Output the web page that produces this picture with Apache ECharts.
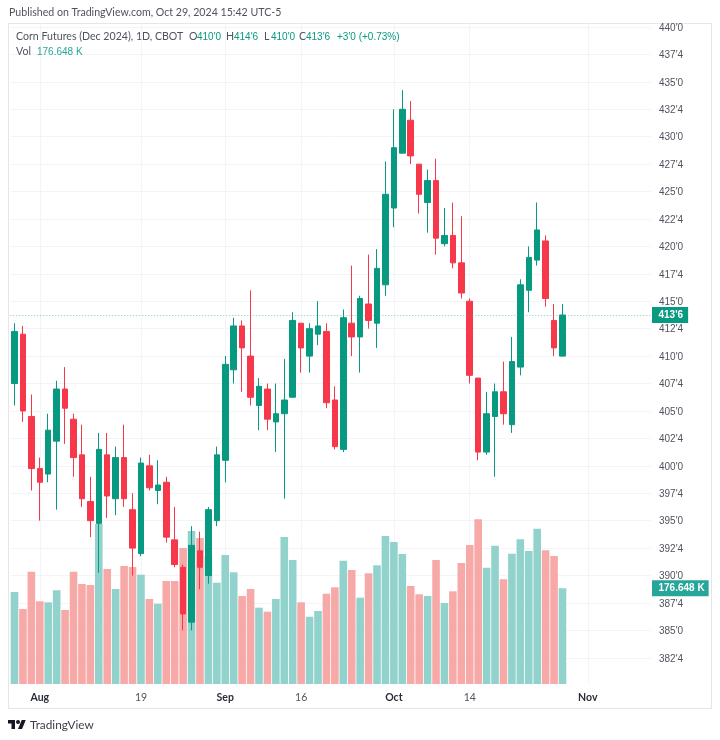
<!DOCTYPE html>
<html><head><meta charset="utf-8">
<style>html,body{margin:0;padding:0;background:#fff}#c{width:720px;height:740px}</style>
<script src="https://cdn.jsdelivr.net/npm/echarts@6/dist/echarts.min.js"></script>
</head><body><div id="c"></div>
<script>
const dates = ['Jul 29','Jul 30','Jul 31','Aug 1','Aug 2','Aug 5','Aug 6','Aug 7','Aug 8','Aug 9','Aug 12','Aug 13','Aug 14','Aug 15','Aug 16','Aug 19','Aug 20','Aug 21','Aug 22','Aug 23','Aug 26','Aug 27','Aug 28','Aug 29','Aug 30','Sep 3','Sep 4','Sep 5','Sep 6','Sep 9','Sep 10','Sep 11','Sep 12','Sep 13','Sep 16','Sep 17','Sep 18','Sep 19','Sep 20','Sep 23','Sep 24','Sep 25','Sep 26','Sep 27','Sep 30','Oct 1','Oct 2','Oct 3','Oct 4','Oct 7','Oct 8','Oct 9','Oct 10','Oct 11','Oct 14','Oct 15','Oct 16','Oct 17','Oct 18','Oct 21','Oct 22','Oct 23','Oct 24','Oct 25','Oct 28','Oct 29','Oct 30','Oct 31','Nov 1','Nov 4','Nov 5','Nov 6','Nov 7','Nov 8','Nov 11','Nov 12'];
const xTicks = {'Aug 1':'Aug','Aug 19':'19','Sep 3':'Sep','Sep 16':'16','Oct 1':'Oct','Oct 14':'14','Nov 1':'Nov'};
const opens = [407.5,412,404.5,399.75,399.25,402.25,407,404.25,401,396.75,394.75,401,397,400.75,396,392,400,397.75,398.5,393.25,390.75,385.75,392.25,390,395,400.5,408.75,412.75,410,405.5,407,404,404.75,406.25,413,410,412,412.25,406,401.5,413,411.75,414.75,413,416.5,423.5,428.5,431.5,427.5,424,426,420.25,421,418.5,415,408,401.25,404.5,406.75,403.75,409,416,418.75,420.5,413.25,410];
const closes = [412.25,405,399.75,398.5,403.25,407,405.25,400.75,397,395,401.5,397.25,400.75,397,392.5,400.25,398,398.25,393.5,391,386.5,392.75,390.75,396,401,409.25,412.75,410.75,406.25,407.25,404.25,404.75,406,413.25,410.75,412.5,412.75,405.75,401.75,413.5,411.75,415.25,413.25,418,424.75,429,432.5,428.25,424.75,426,420.75,421,418.5,415.75,408.25,401.25,404.75,406.75,404.75,409.5,416.5,419,421.5,415.25,410.75,413.75];
const highs = [413,412.75,406.5,400.75,404.75,407.75,409,404.75,403.75,399,403,403,401.75,403.75,397.5,400.75,401,400.5,399,396.25,391,394.5,394,396.25,401.75,410,413.5,413.25,416,408,407.5,407.5,409.75,414,413,413,415,413,407.25,414.25,418.25,415.5,419.25,419.75,427.75,432.5,434.25,433.25,427.5,427,428,423.5,424,422.75,415.25,408,406.75,407.5,409.5,411.75,417,420,424,421,414.75,414.75];
const lows = [405.5,404,397.75,395,398.5,396,402,399,396.25,393.5,390.25,395.25,395.5,396.25,390,391.75,397.75,396.5,393,390.75,385,385,388.75,389.25,394.5,398.5,407.5,406.75,405.5,403.25,403.25,401.25,397,406.25,408.5,408.5,411,405.25,401.5,401.25,410,408.5,412.5,410.75,415.5,421.75,428.5,427.5,423,421.25,419.25,420,418,415.25,407.5,400.5,401,399,403.75,403,408.25,414,418.25,414.5,410,410];
const volumes = [169.8,138.5,207.3,152.7,150.8,173,136.6,207.3,184.6,182.8,295.4,212.3,175.4,217.8,216,201.8,156.9,148.2,190.1,190.1,251,282.4,269.5,236.3,187,238.1,206.2,162.4,175.4,140.9,133.5,156.9,271.4,228.9,150.8,124.2,134.8,166.7,178.5,227.6,210.4,159.3,204.4,219.1,273.2,262.1,240,180.9,165.6,162.4,228.9,149.5,171.1,223.4,256.6,304,214.7,255.3,193.3,240.5,267.1,245.5,286.7,246.8,236.3,176.648];
const lastPrice = 413.75, lastVolume = 176.648;

const UP='#089981', DOWN='#F7384B', VUP='#92D2CC', VDOWN='#F7A9A7', GRID='#F3F4F7', TXT='#50535E';
const FONT='Lato,"Noto Sans",sans-serif', NUM='"Liberation Sans",Arial,sans-serif';
const fmtPrice = v => { const w=Math.floor(v+1e-6); const e=Math.round((v-w)*8); return w+"'"+e; };
const ohlc = opens.map((o,i)=>[o,closes[i],lows[i],highs[i]]);
const vols = volumes.map((v,i)=>({value:v,itemStyle:{color:closes[i]>=opens[i]?VUP:VDOWN}}));
const head = (text,x,y,fill,size,family)=>({type:'text',x,y,z:50,silent:true,style:{text,fill:fill||TXT,font:(size||10.6)+'px '+(family||FONT),textVerticalAlign:'middle'}});
const hdr = [
 head('Published on TradingView.com, Oct 29, 2024 15:42 UTC-5',9,13),
 head('Corn Futures (Dec 2024), 1D, CBOT',16,37),
 head('O',189,37),head("410'0",197,37,UP,10,NUM),
 head('H',226,37),head("414'6",234,37,UP,10,NUM),
 head('L',264,37),head("410'0",271,37,UP,10,NUM),
 head('C',299,37),head("413'6",306,37,UP,10,NUM),
 head("+3'0 (+0.73%)",337,37,UP,10,NUM),
 head('Vol',16,52),head('176.648 K',37,52,'#26A69A',10,NUM),
 head('TradingView',30,725,'#3A3E4A',11.8),
 {type:'polygon',silent:true,x:8,y:718,scaleX:.5,scaleY:.5,shape:{points:[[0,4],[14,4],[14,22],[7,22],[7,11],[0,11]]},style:{fill:'#131722'}},
 {type:'polygon',silent:true,x:8,y:718,scaleX:.5,scaleY:.5,shape:{points:[[20,22],[27.5,4],[35.5,4],[28,22]]},style:{fill:'#131722'}},
 {type:'circle',silent:true,shape:{cx:18,cy:722,r:2},style:{fill:'#131722'}},
 {type:'rect',silent:true,shape:{x:8.5,y:23.5,width:703,height:685},style:{fill:'none',stroke:'#E4E6EC',lineWidth:1},z:-1}
];
const chart = echarts.init(document.getElementById('c'),null,{renderer:'canvas'});
chart.setOption({
 animation:false, backgroundColor:'#fff',
 graphic:hdr,
 grid:[
  {left:10.3,width:640.7,top:27,height:630.8},
  {left:10.3,width:640.7,top:23,height:661}
 ],
 xAxis:[
  {type:'category',gridIndex:0,data:dates,boundaryGap:true,show:false},
  {type:'category',gridIndex:1,data:dates,boundaryGap:true,
   axisLine:{show:false},axisTick:{show:false},
   splitLine:{show:true,alignWithLabel:true,interval:(i,v)=>v in xTicks,lineStyle:{color:GRID,width:1}},
   axisLabel:{interval:(i,v)=>v in xTicks,formatter:v=>{const t=xTicks[v];return /\d/.test(t)?'{n|'+t+'}':'{b|'+t+'}';},margin:8,hideOverlap:false,
     rich:{n:{color:TXT,fontSize:10.5,fontFamily:FONT},b:{color:'#2A2E39',fontSize:10.5,fontWeight:'bold',fontFamily:FONT}}}}
 ],
 yAxis:[
  {type:'value',gridIndex:0,position:'right',min:382.5,max:440,interval:2.5,
   axisLine:{show:false},axisTick:{show:false},
   splitLine:{show:true,lineStyle:{color:GRID,width:1}},
   axisLabel:{formatter:fmtPrice,color:TXT,fontSize:10,fontFamily:NUM,margin:8,verticalAlign:'top',padding:[-4,0,0,0]}},
  {type:'value',gridIndex:1,position:'right',min:0,max:1220.2,show:false,splitLine:{show:false}}
 ],
 series:[
  {type:'bar',xAxisIndex:1,yAxisIndex:1,data:vols,barWidth:7.6,z:2,silent:true,
   markLine:{silent:true,symbol:'none',animation:false,lineStyle:{width:0,color:'rgba(0,0,0,0)'},
    data:[{yAxis:lastVolume}],
    label:{position:'end',distance:1,formatter:()=>lastVolume.toFixed(3)+' K',color:'#fff',backgroundColor:'#26A69A',fontFamily:NUM,fontSize:10,fontWeight:'bold',padding:[3,4,2,6.5],lineHeight:11}}},
  {type:'candlestick',xAxisIndex:0,yAxisIndex:0,data:ohlc,barWidth:6,z:3,silent:true,
   itemStyle:{color:UP,color0:DOWN,borderColor:UP,borderColor0:DOWN,borderWidth:1},
   markLine:{silent:true,symbol:'none',animation:false,lineStyle:{color:'rgba(38,166,154,.6)',type:[1,2],width:1},
    data:[{yAxis:lastPrice}],
    label:{position:'end',distance:1,formatter:()=>fmtPrice(lastPrice),color:'#fff',backgroundColor:UP,fontFamily:NUM,fontSize:10,fontWeight:'bold',padding:[3,5,2,6.5],lineHeight:11}}}
 ]
});
</script></body></html>
